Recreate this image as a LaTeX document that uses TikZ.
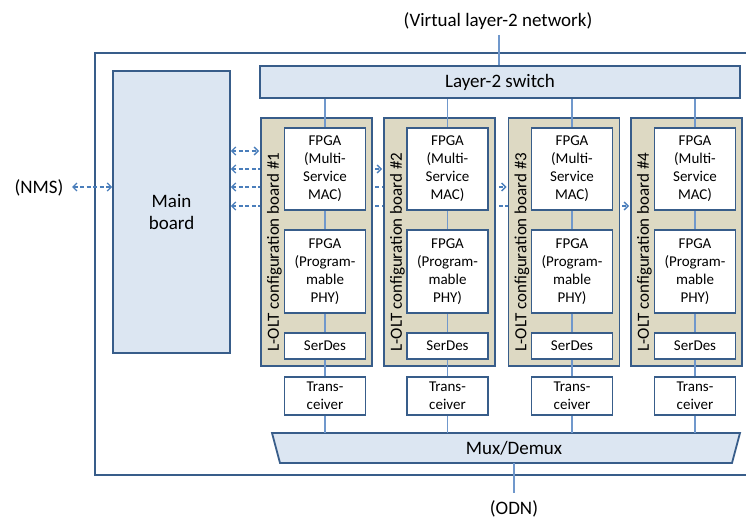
\documentclass[tikz,border=0pt]{standalone}
\usepackage{fontspec}
\setmainfont{Carlito}
\usetikzlibrary{arrows.meta}

\definecolor{frameblue}{RGB}{56,93,138}
\definecolor{lightfill}{RGB}{220,230,242}
\definecolor{boardfill}{RGB}{221,217,195}
\definecolor{linkblue}{RGB}{112,152,204}
\definecolor{ctrlblue}{RGB}{74,126,187}

\pgfdeclarelayer{background}
\pgfsetlayers{background,main}

\tikzset{
  unitbox/.style={draw=frameblue, line width=1.8pt, fill=lightfill, inner sep=0pt, align=center,
                  font=\fontsize{19}{22}\selectfont},
  chipbox/.style={draw=frameblue, line width=1.8pt, fill=white, inner sep=0pt, align=center,
                  minimum width=81pt, font=\fontsize{15}{18}\selectfont},
  boardbox/.style={draw=frameblue, line width=1.8pt, fill=boardfill, inner sep=0pt,
                   minimum width=111pt, minimum height=248pt},
  boardlabel/.style={rotate=90, inner sep=0pt, font=\fontsize{17}{20}\selectfont},
  biglabel/.style={inner sep=0pt, font=\fontsize{19}{22}\selectfont, align=center},
  link/.style={draw=linkblue, line width=1.1pt},
  ctrl/.style={draw=ctrlblue, line width=1.3pt, dash pattern=on 4pt off 2.5pt,
               {Straight Barb[length=4pt,width=8pt]}-{Straight Barb[length=4pt,width=8pt]}}
}

\begin{document}
\begin{tikzpicture}[x=1pt, y=-1pt]
\useasboundingbox (0,0) rectangle (746,521);

% enclosure of the L-OLT (right side runs off the page)
\draw[frameblue, line width=1.8pt] (760,53) -- (95,53) -- (95,475) -- (760,475);

% external labels
\node[biglabel] (vnet) at (498,21) {(Virtual layer-2 network)};
\node[biglabel] (nms) at (39,188) {(NMS)};
\node[biglabel] (odn) at (514,509) {(ODN)};

% main board and layer-2 switch
\node[unitbox, minimum width=117pt, minimum height=282pt] (main) at (171.5,212) {Main\\board};
\node[unitbox, minimum width=480pt, minimum height=32pt] (switch) at (500,82) {Layer-2 switch};

% mux/demux trapezoid
\coordinate (muxtop) at (506,433);
\coordinate (muxbot) at (514,463);
\draw[frameblue, line width=1.8pt, fill=lightfill]
  (272,433) -- (740,433) -- (732,463) -- (280,463) -- cycle;
\node[biglabel] (mux) at (514,448) {Mux/Demux};

% configuration boards with their chips
\foreach \i/\bx/\cx in {1/260/325, 2/383/447.5, 3/507.5/572, 4/630/695}{
  \node[boardbox, anchor=north west] (board\i) at (\bx,117) {};
  \node[boardlabel] (blabel\i) at (\bx+14.5,252) {L-OLT configuration board \#\i};
  \node[chipbox, minimum height=82pt] (mac\i) at (\cx,169) {FPGA\\(Multi-\\Service\\MAC)};
  \node[chipbox, minimum height=83pt] (phy\i) at (\cx,271.5) {FPGA\\(Program-\\mable\\PHY)};
  \node[chipbox, minimum height=26pt] (serdes\i) at (\cx,346) {SerDes};
  \node[chipbox, minimum height=38pt] (trx\i) at (\cx,396) {Trans-\\ceiver};
  \draw[link] (mac\i.north |- switch.south) -- (mac\i.north);
  \draw[link] (mac\i.south) -- (phy\i.north);
  \draw[link] (phy\i.south) -- (serdes\i.north);
  \draw[link] (serdes\i.south) -- (trx\i.north);
  \draw[link] (trx\i.south) -- (trx\i.south |- muxtop);
}

% uplink and fibre side
\coordinate (vnetend) at (499,35);
\coordinate (odnend) at (514,493);
\draw[link] (vnetend) -- (vnetend |- switch.north);
\draw[link] (muxbot) -- (odnend);

% management links from the main board, running under the boards
\coordinate (y1) at (0,151);
\coordinate (y2) at (0,169);
\coordinate (y3) at (0,187);
\coordinate (y4) at (0,206);
\coordinate (nmsend) at (72,187);
\begin{pgfonlayer}{background}
  \draw[ctrl, shorten >=1pt] (main.east |- y1) -- (board1.west |- y1);
  \draw[ctrl, shorten >=1pt] (main.east |- y2) -- (board2.west |- y2);
  \draw[ctrl, shorten >=1pt] (main.east |- y3) -- (board3.west |- y3);
  \draw[ctrl, shorten >=1pt] (main.east |- y4) -- (board4.west |- y4);
\end{pgfonlayer}
\draw[ctrl] (nmsend) -- (main.west |- y3);

\end{tikzpicture}
\end{document}
